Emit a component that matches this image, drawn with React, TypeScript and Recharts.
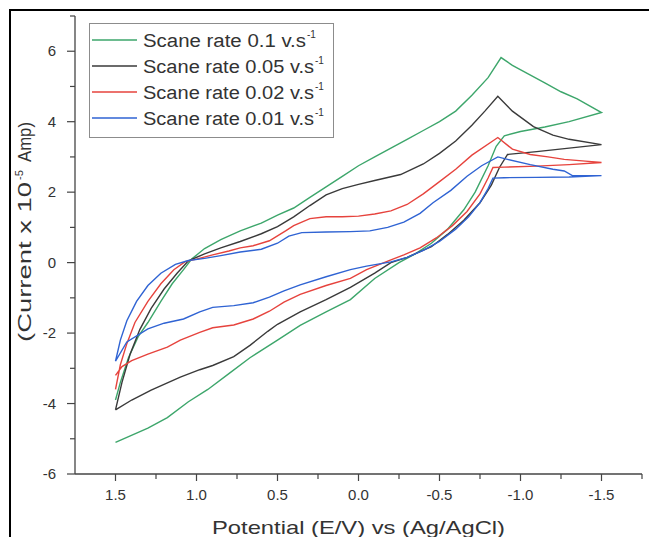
import React from 'react';
import { LineChart, Line, XAxis, YAxis, Legend, Label } from 'recharts';

// [potential (V), current (x 10^-5 A)] in scan order
const rate01: [number, number][] = [
  [1.5, -3.9], [1.47, -3.4], [1.42, -2.7], [1.36, -2.1], [1.3, -1.7], [1.22, -1.1], [1.15, -0.6], [1.08, -0.2],
  [1.03, 0.1], [0.95, 0.4], [0.85, 0.65], [0.73, 0.9], [0.6, 1.12], [0.5, 1.35], [0.4, 1.55], [0.3, 1.85],
  [0.2, 2.15], [0.1, 2.45], [0.0, 2.75], [-0.1, 3.0], [-0.2, 3.25], [-0.3, 3.5], [-0.4, 3.75], [-0.5, 4.0],
  [-0.6, 4.3], [-0.7, 4.75], [-0.8, 5.25], [-0.88, 5.82], [-0.95, 5.6], [-1.05, 5.35], [-1.15, 5.1],
  [-1.25, 4.85], [-1.35, 4.65], [-1.5, 4.26], [-1.3, 4.0], [-1.15, 3.85], [-1.0, 3.72], [-0.9, 3.6],
  [-0.85, 3.3], [-0.8, 2.75], [-0.72, 2.0], [-0.65, 1.5], [-0.55, 0.95], [-0.45, 0.55], [-0.35, 0.25],
  [-0.25, 0.0], [-0.1, -0.45], [0.05, -1.05], [0.2, -1.4], [0.36, -1.78], [0.5, -2.2], [0.67, -2.7],
  [0.8, -3.15], [0.93, -3.6], [1.05, -3.95], [1.18, -4.4], [1.3, -4.7], [1.5, -5.1],
];

const rate005: [number, number][] = [
  [1.5, -4.18], [1.46, -3.4], [1.41, -2.6], [1.35, -1.9], [1.28, -1.3], [1.2, -0.75], [1.12, -0.3], [1.05, 0.05],
  [0.95, 0.25], [0.85, 0.42], [0.73, 0.6], [0.6, 0.82], [0.5, 1.02], [0.4, 1.3], [0.3, 1.62], [0.2, 1.92],
  [0.1, 2.1], [0.0, 2.22], [-0.1, 2.33], [-0.26, 2.5], [-0.4, 2.8], [-0.5, 3.1], [-0.6, 3.45], [-0.7, 3.9],
  [-0.78, 4.3], [-0.86, 4.72], [-0.95, 4.3], [-1.08, 3.86], [-1.2, 3.62], [-1.3, 3.5], [-1.5, 3.35],
  [-1.3, 3.25], [-1.1, 3.15], [-0.92, 3.07], [-0.87, 2.7], [-0.82, 2.2], [-0.75, 1.7], [-0.65, 1.2],
  [-0.55, 0.8], [-0.45, 0.45], [-0.3, 0.15], [-0.2, 0.0], [-0.1, -0.3], [0.05, -0.7], [0.2, -1.05],
  [0.36, -1.4], [0.5, -1.75], [0.56, -1.95], [0.67, -2.35], [0.77, -2.67], [0.9, -2.92], [0.98, -3.04],
  [1.1, -3.25], [1.28, -3.62], [1.4, -3.9], [1.5, -4.18],
];

const rate002: [number, number][] = [
  [1.5, -3.6], [1.47, -2.9], [1.43, -2.3], [1.38, -1.7], [1.3, -1.1], [1.22, -0.6], [1.14, -0.2], [1.07, 0.03],
  [1.0, 0.1], [0.9, 0.22], [0.8, 0.33], [0.73, 0.42], [0.65, 0.48], [0.55, 0.62], [0.45, 0.9], [0.4, 1.05],
  [0.3, 1.25], [0.2, 1.3], [0.1, 1.3], [0.0, 1.32], [-0.1, 1.38], [-0.2, 1.47], [-0.3, 1.65], [-0.4, 1.95],
  [-0.5, 2.3], [-0.6, 2.65], [-0.7, 3.05], [-0.86, 3.55], [-0.95, 3.22], [-1.06, 3.07], [-1.17, 3.0],
  [-1.27, 2.93], [-1.4, 2.88], [-1.5, 2.84], [-1.3, 2.78], [-1.1, 2.74], [-0.9, 2.71], [-0.83, 2.7],
  [-0.8, 2.4], [-0.75, 1.95], [-0.67, 1.45], [-0.58, 1.05], [-0.48, 0.7], [-0.38, 0.42], [-0.28, 0.22],
  [-0.2, 0.08], [-0.05, -0.2], [0.05, -0.45], [0.2, -0.65], [0.36, -0.9], [0.46, -1.12], [0.55, -1.38],
  [0.65, -1.6], [0.77, -1.77], [0.9, -1.85], [0.98, -1.98], [1.1, -2.2], [1.18, -2.4], [1.3, -2.6],
  [1.4, -2.78], [1.46, -2.95], [1.5, -3.2],
];

const rate001: [number, number][] = [
  [1.5, -2.8], [1.47, -2.2], [1.43, -1.65], [1.37, -1.1], [1.3, -0.65], [1.22, -0.3], [1.13, -0.05],
  [1.05, 0.06], [0.95, 0.12], [0.85, 0.2], [0.73, 0.3], [0.6, 0.38], [0.5, 0.55], [0.43, 0.75], [0.35, 0.85],
  [0.2, 0.87], [0.05, 0.88], [-0.07, 0.9], [-0.18, 1.0], [-0.28, 1.15], [-0.38, 1.4], [-0.46, 1.7],
  [-0.57, 2.05], [-0.67, 2.45], [-0.76, 2.75], [-0.86, 3.0], [-0.92, 2.93], [-1.06, 2.78], [-1.2, 2.65],
  [-1.27, 2.6], [-1.32, 2.47], [-1.5, 2.47], [-1.3, 2.43], [-1.1, 2.42], [-0.9, 2.41], [-0.83, 2.4],
  [-0.8, 2.1], [-0.75, 1.7], [-0.68, 1.3], [-0.6, 0.95], [-0.5, 0.6], [-0.4, 0.35], [-0.3, 0.15],
  [-0.2, 0.02], [-0.05, -0.1], [0.05, -0.2], [0.2, -0.4], [0.36, -0.63], [0.46, -0.8], [0.55, -0.98],
  [0.65, -1.14], [0.77, -1.22], [0.9, -1.27], [0.98, -1.4], [1.08, -1.6], [1.2, -1.72], [1.3, -1.88],
  [1.43, -2.25], [1.5, -2.8],
];

const rateLabels = ['0.1', '0.05', '0.02', '0.01'];
const xTicks = [-1.75, -1.5, -1.25, -1, -0.75, -0.5, -0.25, 0, 0.25, 0.5, 0.75, 1, 1.25, 1.5];
const yTicks = [-6, -5, -4, -3, -2, -1, 0, 1, 2, 3, 4, 5, 6, 7];

const colors = ['#3da66b', '#3a3a3a', '#e6433d', '#2f63d3'];
const axisColor = '#444';
const textColor = '#333';

const series = [rate01, rate005, rate002, rate001].map((pts, i) => ({
  name: `Scane rate ${rateLabels[i]} v.s`,
  color: colors[i],
  data: pts.map(([x, y]) => ({ x, y })),
}));

const YTick = (props: any) => {
  const { x, y, payload } = props;
  const v = payload.value;
  const major = v % 2 === 0;
  const axisX = x + 7 + 12;
  return (
    <g>
      <line x1={axisX} x2={axisX - (major ? 8 : 5)} y1={y} y2={y} stroke={axisColor} strokeWidth={1.2} />
      {major && (
        <text x={x} y={y} dy="0.35em" textAnchor="end" fontSize={15} fill={textColor}>{v}</text>
      )}
    </g>
  );
};

const XTick = (props: any) => {
  const { x, y, payload } = props;
  const v = payload.value;
  const major = Math.abs(v * 2 - Math.round(v * 2)) < 1e-6;
  const axisY = y - 6 - 9;
  return (
    <g>
      <line x1={x} x2={x} y1={axisY} y2={axisY + (major ? 7 : 5)} stroke={axisColor} strokeWidth={1.2} />
      {major && (
        <text x={x} y={y} dy="0.71em" textAnchor="middle" fontSize={15} fill={textColor}>{v.toFixed(1)}</text>
      )}
    </g>
  );
};

const renderLegend = () => (
  <svg width={246} height={116} style={{ display: 'block' }}>
    <rect x={0.5} y={0.5} width={244} height={114} fill="#fff" stroke="#8c8c8c" />
    {series.map((s, i) => {
      const cy = 17 + i * 26;
      const len = i === 0 ? 163 : 171;
      return (
        <g key={s.name}>
          <line x1={3} x2={48} y1={cy} y2={cy} stroke={s.color} strokeWidth={1.5} />
          <text x={54} y={cy + 6.5} fontSize={18} fill={textColor} textLength={len} lengthAdjust="spacingAndGlyphs">
            {s.name}
          </text>
          <text x={54 + len + 1} y={cy - 2} fontSize={10} fill={textColor}>-1</text>
        </g>
      );
    })}
  </svg>
);

const YTitle = () => (
  <g transform="translate(31,232) rotate(-90)">
    <text x={-110} y={0} fontSize={18} fill={textColor} textLength={160} lengthAdjust="spacingAndGlyphs">
      (Current x 10
    </text>
    <text x={52} y={-8} fontSize={11} fill={textColor}>-5</text>
    <text x={70} y={0} fontSize={18} fill={textColor} textLength={40} lengthAdjust="spacingAndGlyphs">
      Amp)
    </text>
  </g>
);

const XTitle = () => (
  <text x={212} y={534} fontSize={19} fill={textColor} textLength={293} lengthAdjust="spacingAndGlyphs">
    Potential (E/V) vs (Ag/AgCl)
  </text>
);

export default function App() {
  return (
    <div
      style={{
        position: 'absolute', left: 0, top: 0, width: 649, height: 537, background: '#fff',
        fontFamily: '"Liberation Sans", Arial, sans-serif', overflow: 'hidden',
      }}
    >
      <div style={{ position: 'absolute', left: 9, top: 9, width: 640, height: 2, background: '#000' }} />
      <div style={{ position: 'absolute', left: 9, top: 9, width: 2, height: 528, background: '#000' }} />
      <LineChart width={649} height={537} margin={{ top: 16, right: 7, bottom: 23, left: 25 }}>
        <XAxis
          type="number"
          dataKey="x"
          domain={[-1.75, 1.75]}
          reversed
          allowDataOverflow
          ticks={xTicks}
          interval={0}
          height={40}
          tickSize={6}
          tickMargin={9}
          tickLine={false}
          tick={<XTick />}
          axisLine={{ stroke: axisColor, strokeWidth: 1.3 }}
        >
          <Label content={<XTitle />} />
        </XAxis>
        <YAxis
          type="number"
          domain={[-6, 7]}
          allowDataOverflow
          ticks={yTicks}
          interval={0}
          width={50}
          tickSize={7}
          tickMargin={12}
          tickLine={false}
          tick={<YTick />}
          axisLine={{ stroke: axisColor, strokeWidth: 1.3 }}
        >
          <Label content={<YTitle />} />
        </YAxis>
        <Legend
          layout="vertical"
          align="center"
          verticalAlign="middle"
          content={renderLegend}
          wrapperStyle={{ left: 89, top: 23, width: 246, height: 116 }}
        />
        {series.map((s) => (
          <Line
            key={s.name}
            data={s.data}
            dataKey="y"
            name={s.name}
            type="linear"
            stroke={s.color}
            strokeWidth={1.4}
            dot={false}
            activeDot={false}
            isAnimationActive={false}
          />
        ))}
      </LineChart>
    </div>
  );
}
